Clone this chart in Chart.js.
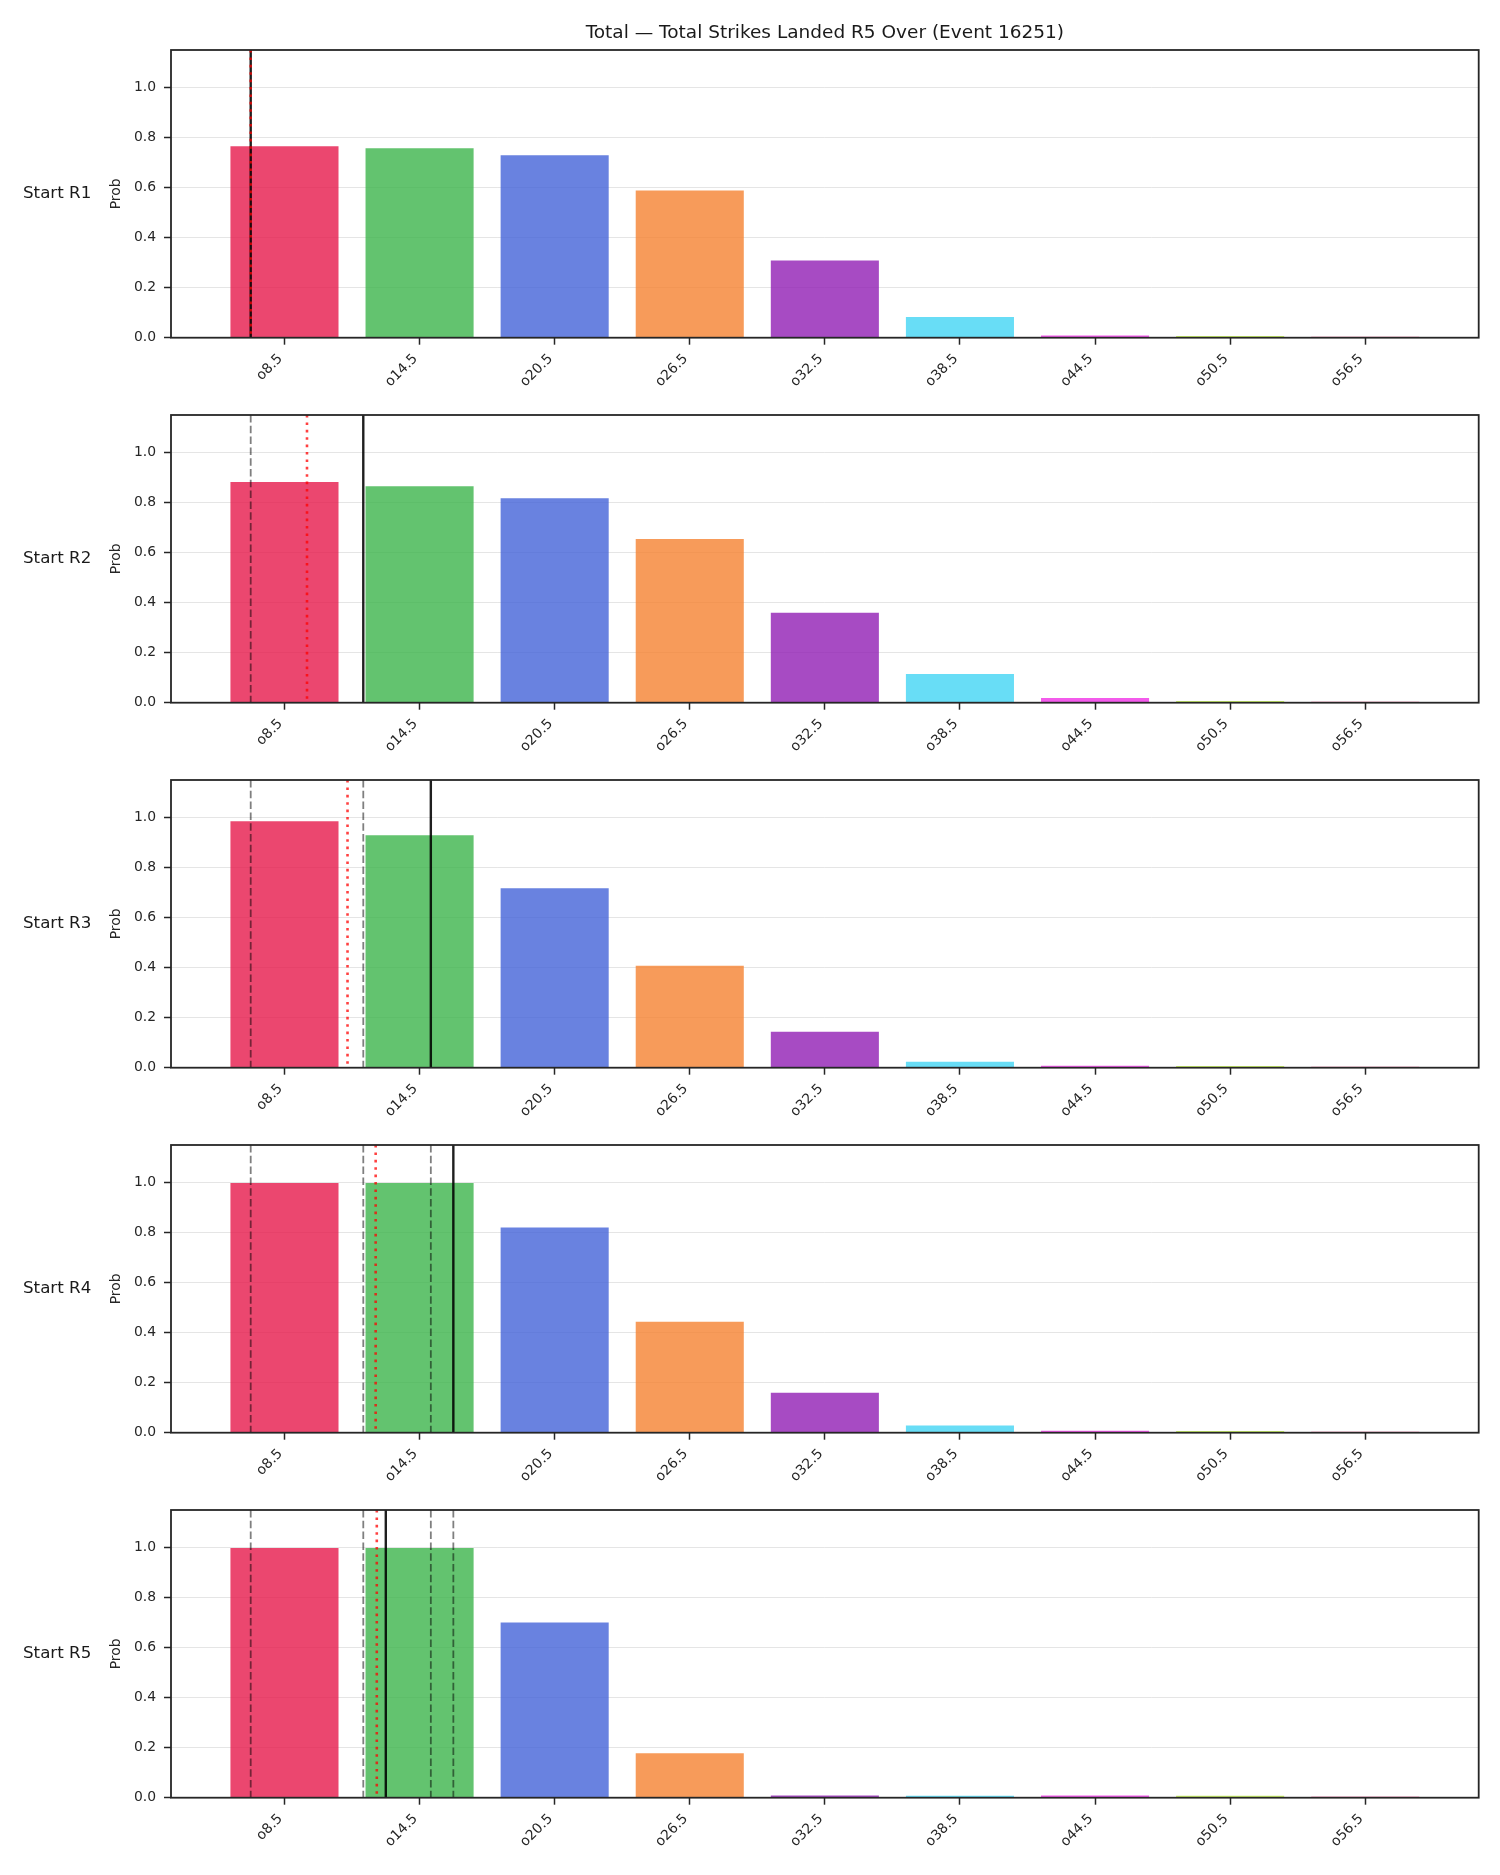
<!DOCTYPE html>
<html>
<head>
<meta charset="utf-8">
<script src="https://cdn.jsdelivr.net/npm/chart.js@4.4.1/dist/chart.umd.min.js"></script>
<style>
  body { margin: 0; background: #fff; }
  #wrap { position: relative; width: 1500px; height: 1875px; }
  canvas { position: absolute; left: 0; }
</style>
</head>
<body>
<div id="wrap"></div>
<script>
// thresholds (x categories)
const categories = ['o8.5', 'o14.5', 'o20.5', 'o26.5', 'o32.5', 'o38.5', 'o44.5', 'o50.5', 'o56.5'];
const lineValues = [8.5, 14.5, 20.5, 26.5, 32.5, 38.5, 44.5, 50.5, 56.5];

// P(over) per starting round
const probR1 = [0.765, 0.757, 0.729, 0.588, 0.309, 0.083, 0.009, 0.007, 0.006];
const probR2 = [0.882, 0.865, 0.817, 0.654, 0.360, 0.115, 0.019, 0.007, 0.006];
const probR3 = [0.985, 0.929, 0.717, 0.408, 0.144, 0.024, 0.008, 0.007, 0.006];
const probR4 = [0.998, 0.998, 0.820, 0.443, 0.160, 0.029, 0.008, 0.007, 0.006];
const probR5 = [0.998, 0.998, 0.700, 0.178, 0.009, 0.008, 0.009, 0.008, 0.007];

// strikes at start of round (black line; earlier ones shown dashed) and projection (red dotted)
const startStrikes = [7, 12, 15, 16, 13];
const projMean = [7.0, 9.5, 11.3, 12.55, 12.6];

const panelLabels = ['Start R1', 'Start R2', 'Start R3', 'Start R4', 'Start R5'];
const yTicks = [0, 0.2, 0.4, 0.6, 0.8, 1.0];
const TITLE = 'Total \u2014 Total Strikes Landed R5 Over (Event 16251)';

const barColors = [
    'rgba(230,25,75,0.8)',
    'rgba(60,180,75,0.8)',
    'rgba(67,99,216,0.8)',
    'rgba(245,130,49,0.8)',
    'rgba(145,30,180,0.8)',
    'rgba(66,212,244,0.8)',
    'rgba(240,50,230,0.8)',
    'rgba(191,239,69,0.8)',
    'rgba(250,190,212,0.8)'
];

const FONT = 'DejaVu Sans';
const TXT = '#262626';
const PANEL_STEP = 365;
const CANVAS_H = 410;
const AREA_TOP = 50, AREA_BOTTOM = 337.7, AREA_LEFT = 171, AREA_RIGHT = 1478.7;

function toPos(v) {
    return (v - lineValues[0]) / (lineValues[1] - lineValues[0]);
}

const panelDecor = {
    id: 'panelDecor',
    afterDatasetsDraw(chart, args, opts) {
        const { ctx, chartArea: a, scales: { x } } = chart;
        ctx.save();
        ctx.beginPath();
        ctx.rect(a.left, a.top, a.width, a.height);
        ctx.clip();
        const vline = (v, color, width, dash) => {
            const px = x.getPixelForValue(toPos(v));
            ctx.strokeStyle = color;
            ctx.lineWidth = width;
            ctx.setLineDash(dash);
            ctx.beginPath();
            ctx.moveTo(px, a.top);
            ctx.lineTo(px, a.bottom);
            ctx.stroke();
        };
        opts.history.forEach(v => vline(v, 'rgba(0,0,0,0.5)', 1.8, [7.5, 3.3]));
        vline(opts.current, 'rgba(0,0,0,0.88)', 2.4, []);
        vline(opts.mean, 'rgba(255,0,0,0.75)', 2.6, [2.6, 4.8]);
        ctx.restore();

        ctx.save();
        ctx.strokeStyle = TXT;
        ctx.lineWidth = 1.8;
        ctx.strokeRect(a.left, a.top, a.width, a.height);
        ctx.fillStyle = '#1a1a1a';
        ctx.font = '16.7px "' + FONT + '"';
        ctx.textAlign = 'left';
        ctx.textBaseline = 'middle';
        ctx.fillText(opts.label, 23, (a.top + a.bottom) / 2);
        ctx.restore();
    }
};

const wrap = document.getElementById('wrap');
const rounds = [probR1, probR2, probR3, probR4, probR5];

rounds.forEach((probs, i) => {
    const canvas = document.createElement('canvas');
    canvas.width = 1500;
    canvas.height = CANVAS_H;
    canvas.style.top = (PANEL_STEP * i) + 'px';
    wrap.appendChild(canvas);

    new Chart(canvas, {
        type: 'bar',
        data: {
            datasets: [{
                data: probs.map((p, k) => ({ x: k, y: p })),
                backgroundColor: barColors,
                borderWidth: 0,
                categoryPercentage: 0.8,
                barPercentage: 1
            }]
        },
        options: {
            responsive: false,
            animation: false,
            devicePixelRatio: 1,
            layout: {
                padding: { top: i === 0 ? 0 : AREA_TOP, right: 1500 - AREA_RIGHT, left: 0, bottom: 0 }
            },
            plugins: {
                legend: { display: false },
                tooltip: { enabled: false },
                title: {
                    display: i === 0,
                    text: TITLE,
                    fullSize: false,
                    color: '#1a1a1a',
                    font: { family: FONT, size: 18.5, weight: 'normal' },
                    padding: { top: 22.4, bottom: 5.4 }
                },
                panelDecor: {
                    label: panelLabels[i],
                    current: startStrikes[i],
                    mean: projMean[i],
                    history: startStrikes.slice(0, i)
                }
            },
            scales: {
                x: {
                    type: 'linear',
                    min: -0.84,
                    max: 8.84,
                    offset: false,
                    afterBuildTicks: ax => { ax.ticks = categories.map((_, k) => ({ value: k })); },
                    afterFit: ax => { ax.height = CANVAS_H - AREA_BOTTOM; },
                    ticks: {
                        autoSkip: false,
                        minRotation: 45,
                        maxRotation: 45,
                        padding: 6,
                        labelOffset: -4,
                        color: TXT,
                        font: { family: FONT, size: 13.9 },
                        callback: v => categories[v]
                    },
                    grid: { offset: false, drawOnChartArea: false, drawTicks: true, tickLength: 7, tickColor: TXT, tickWidth: 1.5 },
                    border: { display: false }
                },
                y: {
                    min: 0,
                    max: 1.15,
                    afterBuildTicks: ax => { ax.ticks = yTicks.map(v => ({ value: v })); },
                    afterFit: ax => { ax.width = AREA_LEFT; },
                    ticks: {
                        padding: 8,
                        color: TXT,
                        font: { family: FONT, size: 13.9 },
                        callback: v => v.toFixed(1)
                    },
                    grid: { color: '#e5e5e5', lineWidth: 1, tickColor: TXT, tickLength: 7, tickWidth: 1.5 },
                    border: { display: false },
                    title: {
                        display: true,
                        text: 'Prob',
                        color: TXT,
                        font: { family: FONT, size: 13.9 },
                        padding: { top: 107.7, bottom: 0 }
                    }
                }
            }
        },
        plugins: [panelDecor]
    });
});
</script>
</body>
</html>
